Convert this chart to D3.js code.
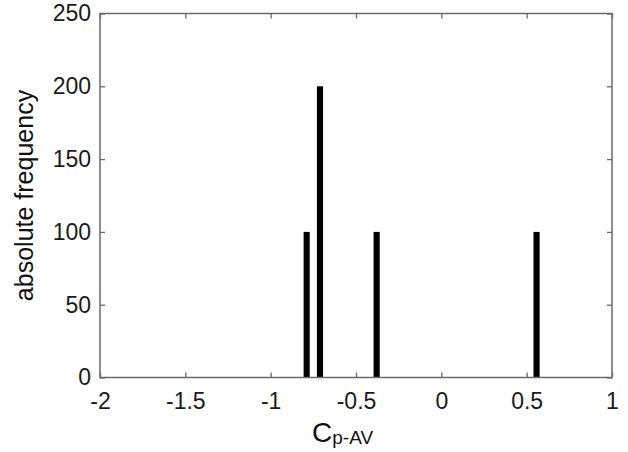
<!DOCTYPE html>
<html><head><meta charset="utf-8">
<script src="https://cdn.jsdelivr.net/npm/d3@7"></script>
<style>body{margin:0;background:#fff}svg{display:block}</style>
</head><body>
<svg id="c" width="628" height="452"></svg>
<script>
const binCenters = [-0.789, -0.711, -0.379, 0.558];
const frequencies = [100, 200, 100, 100];
const xTicks = [-2, -1.5, -1, -0.5, 0, 0.5, 1];
const yTicks = [0, 50, 100, 150, 200, 250];
const barWidthUnits = 0.036;

const svg = d3.select('#c');
const m = {l:100, r:612, t:13.5, b:377.5};
const x = d3.scaleLinear().domain([-2, 1]).range([m.l, m.r]);
const y = d3.scaleLinear().domain([0, 250]).range([m.b, m.t]);
const axisColor = '#6a6a6a';
const font = 'Liberation Sans, Arial, sans-serif';

// bars
svg.append('g').selectAll('rect').data(binCenters).join('rect')
  .attr('x', (d) => x(d - barWidthUnits/2))
  .attr('width', (d) => x(d + barWidthUnits/2) - x(d - barWidthUnits/2))
  .attr('y', (d,i) => y(frequencies[i]))
  .attr('height', (d,i) => y(0) - y(frequencies[i]))
  .attr('fill', '#000');

// axes
function styleAxis(g){
  g.select('.domain').remove();
  g.selectAll('.tick line').attr('stroke', axisColor).attr('stroke-width', 1.3);
  g.selectAll('.tick text').attr('fill', '#1a1a1a').style('font-family', font).style('font-size', '23px');
}
const fmt = (d) => String(d);
const xb = svg.append('g').attr('transform', `translate(0,${m.b})`)
  .call(d3.axisBottom(x).tickValues(xTicks).tickSizeInner(-5).tickSizeOuter(0).tickPadding(15).tickFormat(fmt));
styleAxis(xb);
const xt = svg.append('g').attr('transform', `translate(0,${m.t})`)
  .call(d3.axisTop(x).tickValues(xTicks).tickSizeInner(-5).tickSizeOuter(0).tickFormat(''));
styleAxis(xt);
const yl = svg.append('g').attr('transform', `translate(${m.l},0)`)
  .call(d3.axisLeft(y).tickValues(yTicks).tickSizeInner(-5).tickSizeOuter(0).tickPadding(9).tickFormat(fmt));
styleAxis(yl);
const yr = svg.append('g').attr('transform', `translate(${m.r},0)`)
  .call(d3.axisRight(y).tickValues(yTicks).tickSizeInner(-5).tickSizeOuter(0).tickFormat(''));
styleAxis(yr);

// frame
svg.append('rect').attr('x', m.l).attr('y', m.t).attr('width', m.r-m.l).attr('height', m.b-m.t)
  .attr('fill', 'none').attr('stroke', axisColor).attr('stroke-width', 1.5);

// labels
const xl = svg.append('text').attr('x', 312).attr('y', 441.5)
  .style('font-family', font).style('font-size', '28px').attr('fill', '#111');
xl.append('tspan').text('C');
xl.append('tspan').attr('dy', 2).style('font-size', '19px').text('p-AV');

svg.append('text').attr('transform', `translate(33,${(m.t+m.b)/2}) rotate(-90)`)
  .attr('text-anchor', 'middle').style('font-family', font).style('font-size', '25px').attr('fill', '#111')
  .text('absolute frequency');
</script>
</body></html>
